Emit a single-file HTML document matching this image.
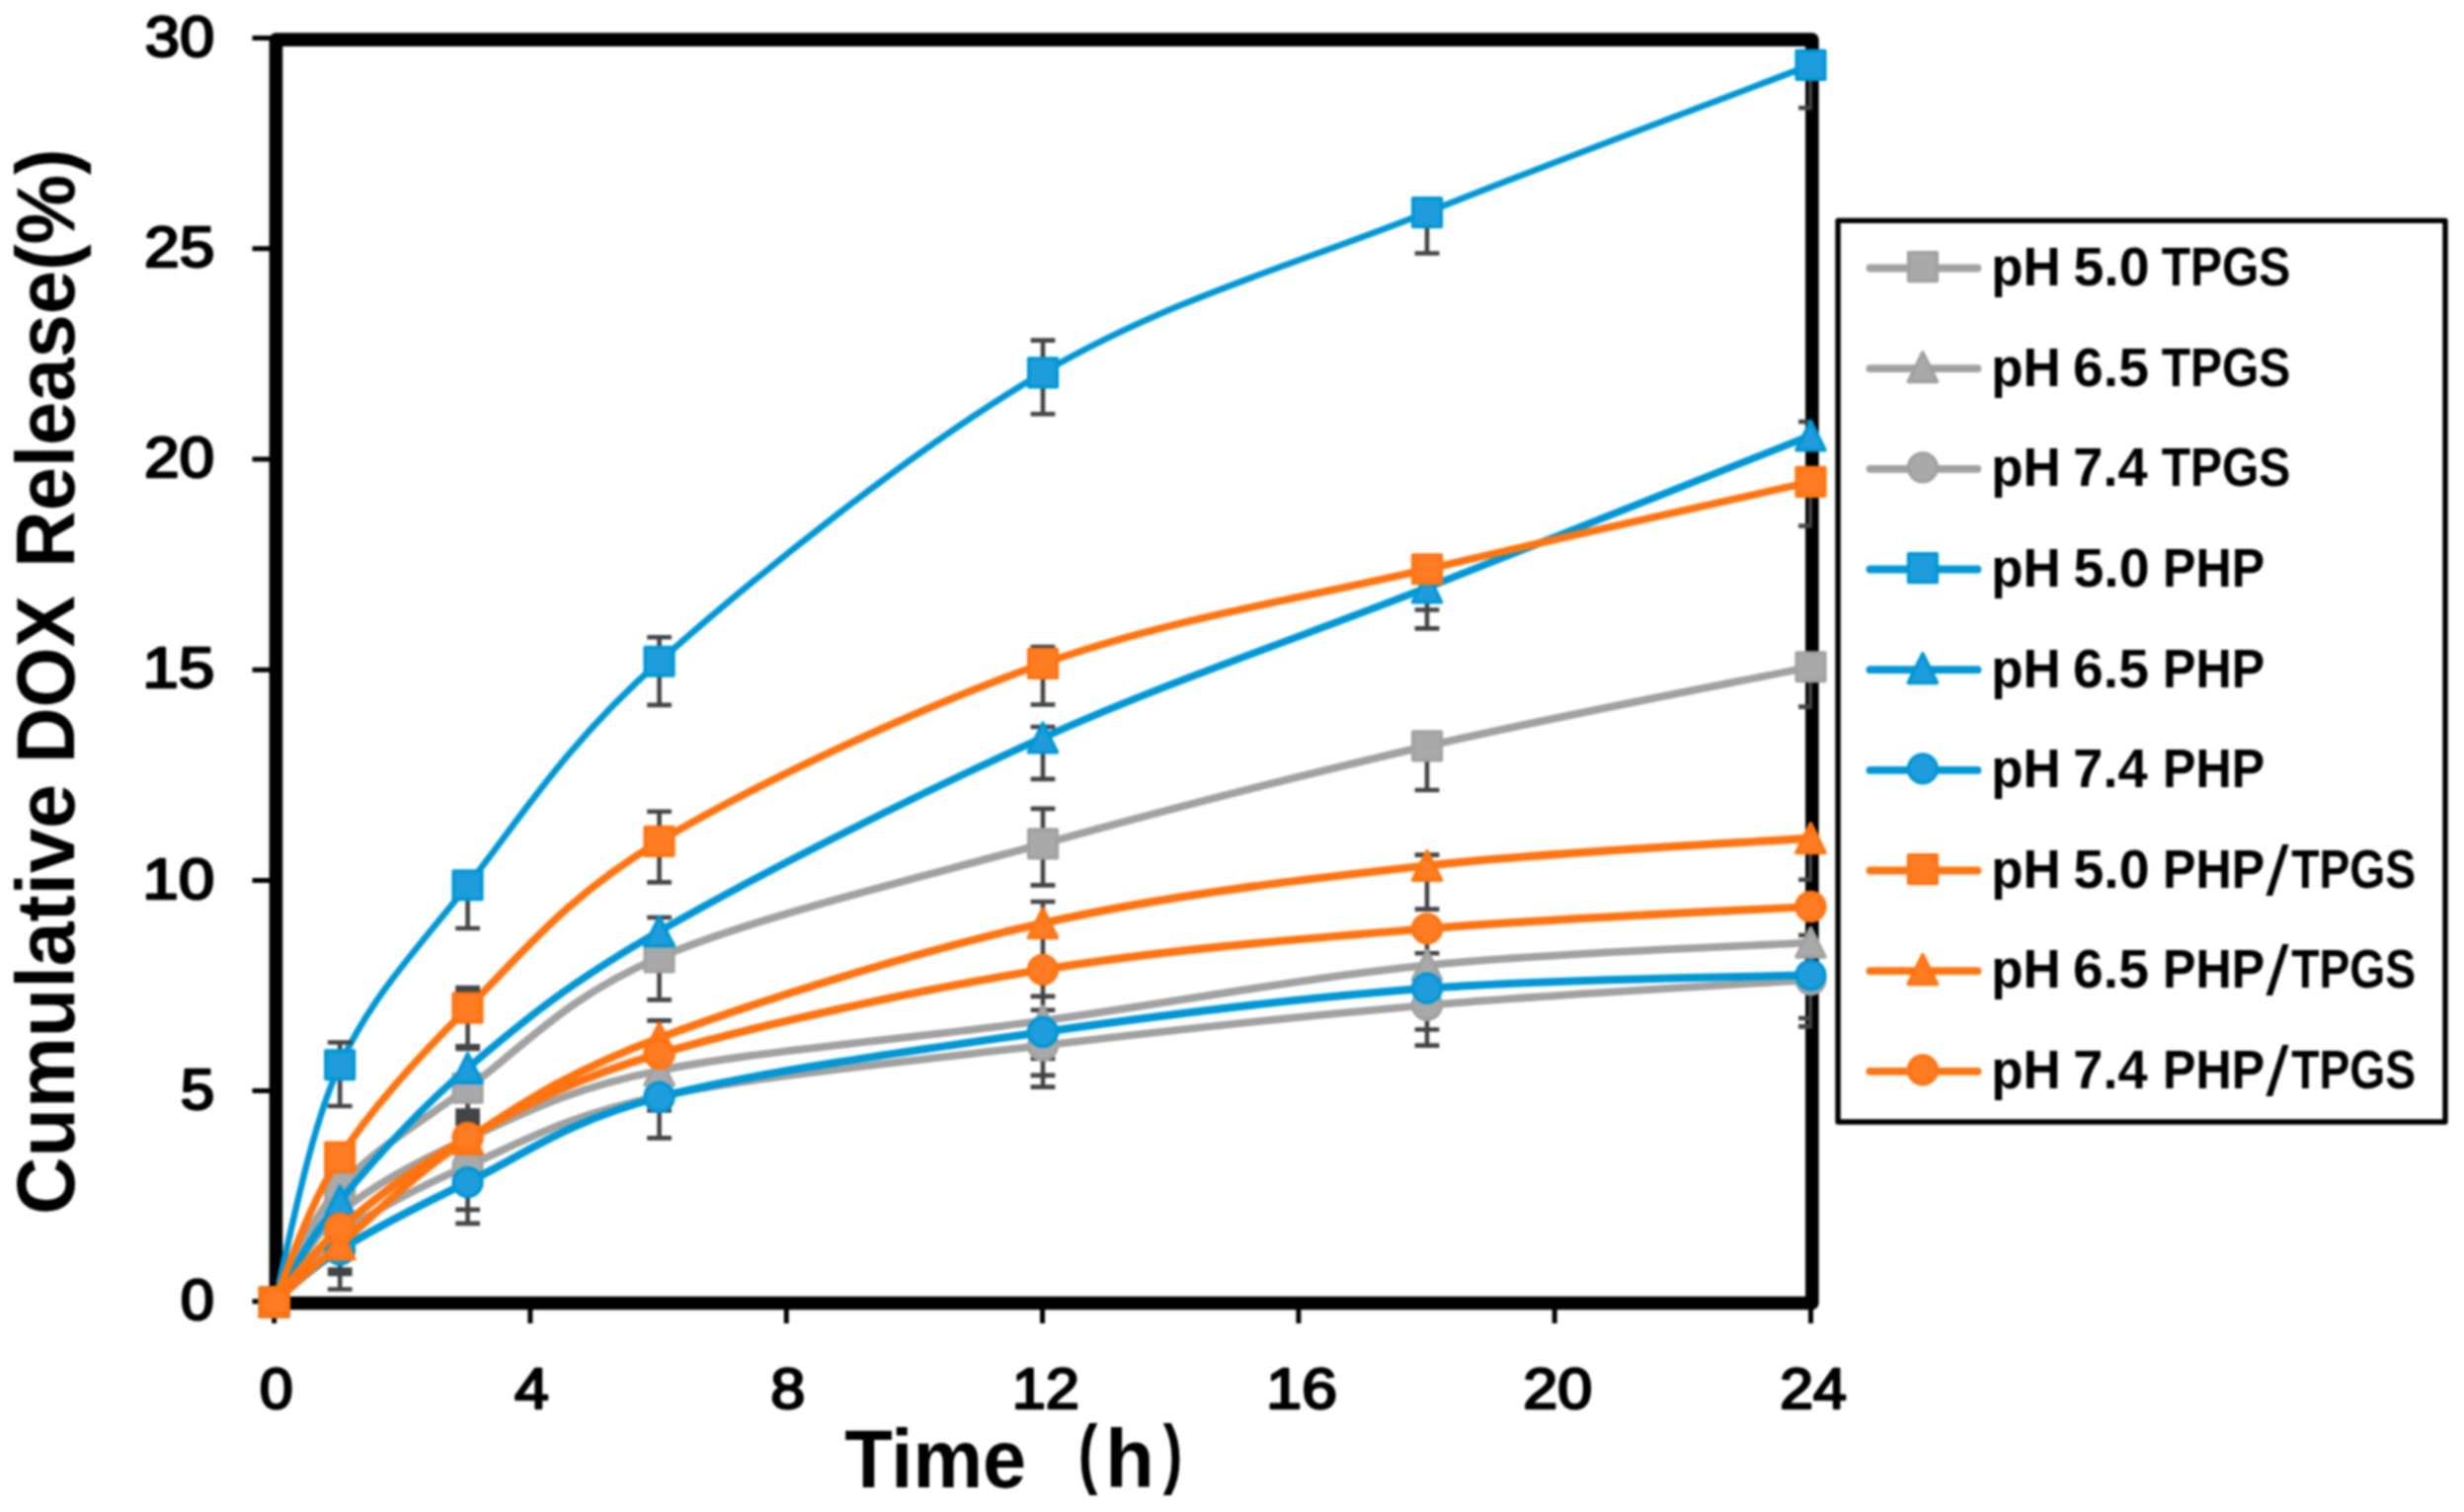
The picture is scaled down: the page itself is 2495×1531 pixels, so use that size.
<!DOCTYPE html>
<html lang="en"><head><meta charset="utf-8"><title>Cumulative DOX Release</title>
<style>html,body{margin:0;padding:0;background:#fff;overflow:hidden}svg{display:block;filter:blur(1px)}svg{font-family:"Liberation Sans",sans-serif;font-weight:700}text{fill:#000}</style>
</head><body>
<svg width="2495" height="1531" viewBox="0 0 2495 1531">
<rect width="2495" height="1531" fill="#fff"/>
<defs><clipPath id="pa"><rect x="279.5" y="40" width="1555.5" height="1279.2"/></clipPath></defs>
<g stroke="#000" stroke-width="5" fill="none">
<path d="M255.5 1317.8H275M255.5 1104.6H275M255.5 891.4H275M255.5 678.2H275M255.5 465H275M255.5 251.8H275M255.5 38.6H275M277.6 1322V1340M536.9 1322V1340M796.3 1322V1340M1055.6 1322V1340M1314.9 1322V1340M1574.2 1322V1340M1833.6 1322V1340"/>
</g>
<rect x="279.4" y="40.1" width="1555.5" height="1279.4" fill="none" stroke="#000" stroke-width="13.6" stroke-linejoin="round"/>
<g font-size="58" font-weight="400" stroke="#000" stroke-width="2.4" stroke-linejoin="round">
<text x="182.8" y="1335.9" textLength="34.2" lengthAdjust="spacingAndGlyphs">0</text>
<text x="182.7" y="1122.7" textLength="34.5" lengthAdjust="spacingAndGlyphs">5</text>
<text x="144.2" y="909.5" textLength="73" lengthAdjust="spacingAndGlyphs">10</text>
<text x="144.2" y="696.3" textLength="73.2" lengthAdjust="spacingAndGlyphs">15</text>
<text x="146" y="483.1" textLength="71.1" lengthAdjust="spacingAndGlyphs">20</text>
<text x="146" y="269.9" textLength="71.3" lengthAdjust="spacingAndGlyphs">25</text>
<text x="146.8" y="56.7" textLength="70.3" lengthAdjust="spacingAndGlyphs">30</text>
<text x="262.8" y="1426.3" textLength="34" lengthAdjust="spacingAndGlyphs">0</text>
<text x="521.1" y="1426.3" textLength="34.8" lengthAdjust="spacingAndGlyphs">4</text>
<text x="780.2" y="1426.3" textLength="35.1" lengthAdjust="spacingAndGlyphs">8</text>
<text x="1024.7" y="1426.3" textLength="68.3" lengthAdjust="spacingAndGlyphs">12</text>
<text x="1282" y="1426.3" textLength="72.2" lengthAdjust="spacingAndGlyphs">16</text>
<text x="1542.3" y="1426.3" textLength="70.1" lengthAdjust="spacingAndGlyphs">20</text>
<text x="1802.2" y="1426.3" textLength="67.7" lengthAdjust="spacingAndGlyphs">24</text>
</g>
<text transform="translate(74.6 0) rotate(-90)" font-size="83.5"><tspan x="-1229.9" textLength="435.8" lengthAdjust="spacingAndGlyphs">Cumulative</tspan> <tspan x="-773.1" textLength="169.8" lengthAdjust="spacingAndGlyphs">DOX</tspan> <tspan x="-574.7" textLength="424.3" lengthAdjust="spacingAndGlyphs">Release(%)</tspan></text>
<text y="1505.5" font-size="83.5"><tspan x="855.3" textLength="183.9" lengthAdjust="spacingAndGlyphs">Time</tspan><tspan x="1062"> </tspan><tspan x="1091.7" dy="-7.5" font-size="78" textLength="19.6" lengthAdjust="spacingAndGlyphs">(</tspan><tspan x="1119.3" dy="7.5" textLength="49.5" lengthAdjust="spacingAndGlyphs">h</tspan><tspan x="1177.7" dy="-7.5" font-size="78" textLength="19.6" lengthAdjust="spacingAndGlyphs">)</tspan></text>
<g>
<path d="M277.8 1318.2C288.9 1298.8 311.6 1237.6 344.2 1201.5C376.8 1165.4 419.7 1140.4 473.6 1101.7C527.5 1063 570.5 1010.7 667.6 969.5C764.7 928.3 926.4 890.1 1056 854.4C1185.6 818.7 1315.4 785.3 1445 755.4C1574.6 725.5 1768.8 688.6 1833.5 675.2" fill="none" stroke="#A1A1A1" stroke-width="7.8" stroke-linecap="round" stroke-linejoin="round" clip-path="url(#pa)"/>
<g stroke="#424446" stroke-width="4.6" fill="none" clip-path="url(#pa)">
<path d="M473.6 1110V1140M461.2 1124.5H486M461.2 1129H486M461.2 1133.5H486M461.2 1138H486"/>
<path d="M667.6 929V1012.4M655.2 929H680M655.2 1012.4H680"/>
<path d="M1056 818.9V896.4M1043.6 818.9H1068.4M1043.6 896.4H1068.4"/>
<path d="M1445 755V800M1432.6 800H1457.4"/>
<path d="M1833.5 675V715.6M1821.1 715.6H1845.9"/>
</g>
<rect x="263.4" y="1303.9" width="28.7" height="28.7" fill="#A9A9A9" stroke="#A1A1A1" stroke-width="3.5" stroke-linejoin="round"/>
<rect x="329.8" y="1187.2" width="28.7" height="28.7" fill="#A9A9A9" stroke="#A1A1A1" stroke-width="3.5" stroke-linejoin="round"/>
<rect x="459.2" y="1087.4" width="28.7" height="28.7" fill="#A9A9A9" stroke="#A1A1A1" stroke-width="3.5" stroke-linejoin="round"/>
<rect x="653.2" y="955.1" width="28.7" height="28.7" fill="#A9A9A9" stroke="#A1A1A1" stroke-width="3.5" stroke-linejoin="round"/>
<rect x="1041.7" y="840" width="28.7" height="28.7" fill="#A9A9A9" stroke="#A1A1A1" stroke-width="3.5" stroke-linejoin="round"/>
<rect x="1430.7" y="741" width="28.7" height="28.7" fill="#A9A9A9" stroke="#A1A1A1" stroke-width="3.5" stroke-linejoin="round"/>
<rect x="1819.2" y="660.9" width="28.7" height="28.7" fill="#A9A9A9" stroke="#A1A1A1" stroke-width="3.5" stroke-linejoin="round"/>
</g>
<g>
<path d="M277.8 1318.2C288.9 1303.2 311.6 1255.5 344.2 1228C376.8 1200.5 419.7 1177 473.6 1153C527.5 1129 570.5 1103.9 667.6 1084C764.7 1064.1 926.4 1051.3 1056 1033.5C1185.6 1015.7 1315.4 990.6 1445 977.4C1574.6 964.2 1768.8 958.1 1833.5 954.3" fill="none" stroke="#A1A1A1" stroke-width="7.8" stroke-linecap="round" stroke-linejoin="round" clip-path="url(#pa)"/>
<g stroke="#424446" stroke-width="4.6" fill="none" clip-path="url(#pa)">
<path d="M1056 1008.9V1100.6M1043.6 1022.8H1068.4M1043.6 1072H1068.4M1043.6 1088.9H1068.4M1043.6 1100.6H1068.4"/>
<path d="M1445 950V1058.6M1432.6 965.3H1457.4M1432.6 1042.5H1457.4M1432.6 1058.6H1457.4"/>
<path d="M1833.5 947V1039.4M1821.1 947H1845.9M1821.1 1031H1845.9M1821.1 1039.4H1845.9"/>
</g>
<path d="M277.8 1303.5L292.4 1333L263.2 1333Z" fill="#A9A9A9" stroke="#A1A1A1" stroke-width="3.5" stroke-linejoin="round"/>
<path d="M344.2 1213.2L358.8 1242.8L329.6 1242.8Z" fill="#A9A9A9" stroke="#A1A1A1" stroke-width="3.5" stroke-linejoin="round"/>
<path d="M473.6 1138.2L488.2 1167.8L459 1167.8Z" fill="#A9A9A9" stroke="#A1A1A1" stroke-width="3.5" stroke-linejoin="round"/>
<path d="M667.6 1069.2L682.2 1098.8L653 1098.8Z" fill="#A9A9A9" stroke="#A1A1A1" stroke-width="3.5" stroke-linejoin="round"/>
<path d="M1056 1018.8L1070.6 1048.2L1041.4 1048.2Z" fill="#A9A9A9" stroke="#A1A1A1" stroke-width="3.5" stroke-linejoin="round"/>
<path d="M1445 962.6L1459.6 992.1L1430.4 992.1Z" fill="#A9A9A9" stroke="#A1A1A1" stroke-width="3.5" stroke-linejoin="round"/>
<path d="M1833.5 939.5L1848.1 969L1818.9 969Z" fill="#A9A9A9" stroke="#A1A1A1" stroke-width="3.5" stroke-linejoin="round"/>
</g>
<g>
<path d="M277.8 1318.2C288.9 1306.8 311.6 1273 344.2 1250C376.8 1227 419.7 1203.8 473.6 1180.5C527.5 1157.2 570.5 1130.3 667.6 1110C764.7 1089.7 926.4 1074 1056 1058.6C1185.6 1043.2 1315.4 1028.9 1445 1017.8C1574.6 1006.7 1768.8 996.3 1833.5 992" fill="none" stroke="#A1A1A1" stroke-width="7.8" stroke-linecap="round" stroke-linejoin="round" clip-path="url(#pa)"/>
<g stroke="#424446" stroke-width="4.6" fill="none" clip-path="url(#pa)">
<path d="M344.2 1270V1305.5M331.8 1285.5H356.6M331.8 1290H356.6M331.8 1305.5H356.6"/>
<path d="M473.6 1200V1238.9M461.2 1224.9H486M461.2 1238.9H486"/>
<path d="M667.6 1110V1124.5M655.2 1124.5H680"/>
</g>
<circle cx="277.8" cy="1318.2" r="14.4" fill="#A9A9A9" stroke="#A1A1A1" stroke-width="3.5"/>
<circle cx="344.2" cy="1250" r="14.4" fill="#A9A9A9" stroke="#A1A1A1" stroke-width="3.5"/>
<circle cx="473.6" cy="1180.5" r="14.4" fill="#A9A9A9" stroke="#A1A1A1" stroke-width="3.5"/>
<circle cx="667.6" cy="1110" r="14.4" fill="#A9A9A9" stroke="#A1A1A1" stroke-width="3.5"/>
<circle cx="1056" cy="1058.6" r="14.4" fill="#A9A9A9" stroke="#A1A1A1" stroke-width="3.5"/>
<circle cx="1445" cy="1017.8" r="14.4" fill="#A9A9A9" stroke="#A1A1A1" stroke-width="3.5"/>
<circle cx="1833.5" cy="992" r="14.4" fill="#A9A9A9" stroke="#A1A1A1" stroke-width="3.5"/>
</g>
<g>
<path d="M277.8 1318.2C288.9 1278.2 311.6 1148.5 344.2 1078.2C376.8 1007.9 419.7 964.3 473.6 896.2C527.5 828.1 570.5 756.3 667.6 669.8C764.7 583.3 926.4 453.2 1056 377.4C1185.6 301.6 1315.4 266.9 1445 215C1574.6 163.1 1768.8 90.8 1833.5 65.9" fill="none" stroke="#0097D7" stroke-width="6.5" stroke-linecap="round" stroke-linejoin="round" clip-path="url(#pa)"/>
<g stroke="#424446" stroke-width="4.6" fill="none" clip-path="url(#pa)">
<path d="M344.2 1055.5V1120M331.8 1055.5H356.6M331.8 1120H356.6"/>
<path d="M473.6 896V940M461.2 940H486"/>
<path d="M667.6 645.3V713.9M655.2 645.3H680M655.2 713.9H680"/>
<path d="M1056 344.6V419.2M1043.6 344.6H1068.4M1043.6 419.2H1068.4"/>
<path d="M1445 215V256.5M1432.6 256.5H1457.4"/>
<path d="M1833.5 66V109.3M1821.1 109.3H1845.9"/>
</g>
<rect x="263.4" y="1303.9" width="28.7" height="28.7" fill="#1F9CDB" stroke="#0097D7" stroke-width="3.5" stroke-linejoin="round"/>
<rect x="329.8" y="1063.9" width="28.7" height="28.7" fill="#1F9CDB" stroke="#0097D7" stroke-width="3.5" stroke-linejoin="round"/>
<rect x="459.2" y="881.9" width="28.7" height="28.7" fill="#1F9CDB" stroke="#0097D7" stroke-width="3.5" stroke-linejoin="round"/>
<rect x="653.2" y="655.4" width="28.7" height="28.7" fill="#1F9CDB" stroke="#0097D7" stroke-width="3.5" stroke-linejoin="round"/>
<rect x="1041.7" y="363" width="28.7" height="28.7" fill="#1F9CDB" stroke="#0097D7" stroke-width="3.5" stroke-linejoin="round"/>
<rect x="1430.7" y="200.7" width="28.7" height="28.7" fill="#1F9CDB" stroke="#0097D7" stroke-width="3.5" stroke-linejoin="round"/>
<rect x="1819.2" y="51.6" width="28.7" height="28.7" fill="#1F9CDB" stroke="#0097D7" stroke-width="3.5" stroke-linejoin="round"/>
</g>
<g>
<path d="M277.8 1318.2C288.9 1301.2 311.6 1255.5 344.2 1216C376.8 1176.5 419.7 1127 473.6 1081.5C527.5 1036 570.5 998.8 667.6 943C764.7 887.2 926.4 805 1056 747C1185.6 689 1315.4 646 1445 595C1574.6 544 1768.8 466.7 1833.5 441" fill="none" stroke="#0097D7" stroke-width="7.5" stroke-linecap="round" stroke-linejoin="round" clip-path="url(#pa)"/>
<g stroke="#424446" stroke-width="4.6" fill="none" clip-path="url(#pa)">
<path d="M1056 736V788.9M1043.6 736H1068.4M1043.6 788.9H1068.4"/>
<path d="M1445 595V636.4M1432.6 617.5H1457.4M1432.6 636.4H1457.4"/>
<path d="M1833.5 427V441M1821.1 427H1845.9"/>
</g>
<path d="M277.8 1303.5L292.4 1333L263.2 1333Z" fill="#1F9CDB" stroke="#0097D7" stroke-width="3.5" stroke-linejoin="round"/>
<path d="M344.2 1201.2L358.8 1230.8L329.6 1230.8Z" fill="#1F9CDB" stroke="#0097D7" stroke-width="3.5" stroke-linejoin="round"/>
<path d="M473.6 1066.8L488.2 1096.2L459 1096.2Z" fill="#1F9CDB" stroke="#0097D7" stroke-width="3.5" stroke-linejoin="round"/>
<path d="M667.6 928.2L682.2 957.8L653 957.8Z" fill="#1F9CDB" stroke="#0097D7" stroke-width="3.5" stroke-linejoin="round"/>
<path d="M1056 732.2L1070.6 761.8L1041.4 761.8Z" fill="#1F9CDB" stroke="#0097D7" stroke-width="3.5" stroke-linejoin="round"/>
<path d="M1445 580.2L1459.6 609.8L1430.4 609.8Z" fill="#1F9CDB" stroke="#0097D7" stroke-width="3.5" stroke-linejoin="round"/>
<path d="M1833.5 426.2L1848.1 455.8L1818.9 455.8Z" fill="#1F9CDB" stroke="#0097D7" stroke-width="3.5" stroke-linejoin="round"/>
</g>
<g>
<path d="M277.8 1318.2C288.9 1309.5 311.6 1285.9 344.2 1265.7C376.8 1245.5 419.7 1223 473.6 1197.2C527.5 1171.4 570.5 1136.4 667.6 1111C764.7 1085.6 926.4 1063.4 1056 1045C1185.6 1026.6 1315.4 1010.3 1445 1000.7C1574.6 991.1 1768.8 989.5 1833.5 987.3" fill="none" stroke="#0097D7" stroke-width="8" stroke-linecap="round" stroke-linejoin="round" clip-path="url(#pa)"/>
<g stroke="#424446" stroke-width="4.6" fill="none" clip-path="url(#pa)">
<path d="M667.6 1111V1152.4M655.2 1152.4H680"/>
</g>
<circle cx="277.8" cy="1318.2" r="14.4" fill="#1F9CDB" stroke="#0097D7" stroke-width="3.5"/>
<circle cx="344.2" cy="1265.7" r="14.4" fill="#1F9CDB" stroke="#0097D7" stroke-width="3.5"/>
<circle cx="473.6" cy="1197.2" r="14.4" fill="#1F9CDB" stroke="#0097D7" stroke-width="3.5"/>
<circle cx="667.6" cy="1111" r="14.4" fill="#1F9CDB" stroke="#0097D7" stroke-width="3.5"/>
<circle cx="1056" cy="1045" r="14.4" fill="#1F9CDB" stroke="#0097D7" stroke-width="3.5"/>
<circle cx="1445" cy="1000.7" r="14.4" fill="#1F9CDB" stroke="#0097D7" stroke-width="3.5"/>
<circle cx="1833.5" cy="987.3" r="14.4" fill="#1F9CDB" stroke="#0097D7" stroke-width="3.5"/>
</g>
<g>
<path d="M277.8 1318.2C288.9 1293.8 311.6 1221.1 344.2 1171.5C376.8 1121.9 419.7 1073.8 473.6 1020.6C527.5 967.4 570.5 910.1 667.6 852C764.7 793.9 926.4 718 1056 672C1185.6 626 1315.4 607 1445 576.3C1574.6 545.6 1768.8 502.6 1833.5 487.9" fill="none" stroke="#FF7410" stroke-width="7.6" stroke-linecap="round" stroke-linejoin="round" clip-path="url(#pa)"/>
<g stroke="#424446" stroke-width="4.6" fill="none" clip-path="url(#pa)">
<path d="M473.6 1000V1062M461.2 1000H486M461.2 1002.6H486M461.2 1059.4H486M461.2 1062H486"/>
<path d="M667.6 821.7V893.4M655.2 821.7H680M655.2 893.4H680"/>
<path d="M1056 655V713.5M1043.6 655H1068.4M1043.6 713.5H1068.4"/>
<path d="M1833.5 488V532.5M1821.1 532.5H1845.9"/>
</g>
<rect x="263.4" y="1303.9" width="28.7" height="28.7" fill="#FF7B22" stroke="#FF7410" stroke-width="3.5" stroke-linejoin="round"/>
<rect x="329.8" y="1157.2" width="28.7" height="28.7" fill="#FF7B22" stroke="#FF7410" stroke-width="3.5" stroke-linejoin="round"/>
<rect x="459.2" y="1006.2" width="28.7" height="28.7" fill="#FF7B22" stroke="#FF7410" stroke-width="3.5" stroke-linejoin="round"/>
<rect x="653.2" y="837.6" width="28.7" height="28.7" fill="#FF7B22" stroke="#FF7410" stroke-width="3.5" stroke-linejoin="round"/>
<rect x="1041.7" y="657.6" width="28.7" height="28.7" fill="#FF7B22" stroke="#FF7410" stroke-width="3.5" stroke-linejoin="round"/>
<rect x="1430.7" y="561.9" width="28.7" height="28.7" fill="#FF7B22" stroke="#FF7410" stroke-width="3.5" stroke-linejoin="round"/>
<rect x="1819.2" y="473.5" width="28.7" height="28.7" fill="#FF7B22" stroke="#FF7410" stroke-width="3.5" stroke-linejoin="round"/>
</g>
<g>
<path d="M277.8 1318.2C288.9 1308.5 311.6 1287.5 344.2 1260C376.8 1232.5 419.7 1188.2 473.6 1153.4C527.5 1118.6 570.5 1087.5 667.6 1051C764.7 1014.5 926.4 963.8 1056 934.7C1185.6 905.6 1315.4 890.9 1445 876.5C1574.6 862.1 1768.8 853.2 1833.5 848.6" fill="none" stroke="#FF7410" stroke-width="8.2" stroke-linecap="round" stroke-linejoin="round" clip-path="url(#pa)"/>
<g stroke="#424446" stroke-width="4.6" fill="none" clip-path="url(#pa)">
<path d="M667.6 1033.4V1051M655.2 1033.4H680"/>
<path d="M1056 913V1000M1043.6 913H1068.4"/>
<path d="M1445 865.6V920.6M1432.6 865.6H1457.4M1432.6 920.6H1457.4"/>
<path d="M1833.5 848V890.7M1821.1 890.7H1845.9"/>
</g>
<path d="M277.8 1303.5L292.4 1333L263.2 1333Z" fill="#FF7B22" stroke="#FF7410" stroke-width="3.5" stroke-linejoin="round"/>
<path d="M344.2 1245.2L358.8 1274.8L329.6 1274.8Z" fill="#FF7B22" stroke="#FF7410" stroke-width="3.5" stroke-linejoin="round"/>
<path d="M473.6 1138.7L488.2 1168.2L459 1168.2Z" fill="#FF7B22" stroke="#FF7410" stroke-width="3.5" stroke-linejoin="round"/>
<path d="M667.6 1036.2L682.2 1065.8L653 1065.8Z" fill="#FF7B22" stroke="#FF7410" stroke-width="3.5" stroke-linejoin="round"/>
<path d="M1056 920L1070.6 949.5L1041.4 949.5Z" fill="#FF7B22" stroke="#FF7410" stroke-width="3.5" stroke-linejoin="round"/>
<path d="M1445 861.8L1459.6 891.2L1430.4 891.2Z" fill="#FF7B22" stroke="#FF7410" stroke-width="3.5" stroke-linejoin="round"/>
<path d="M1833.5 833.9L1848.1 863.4L1818.9 863.4Z" fill="#FF7B22" stroke="#FF7410" stroke-width="3.5" stroke-linejoin="round"/>
</g>
<g>
<path d="M277.8 1318.2C288.9 1305.8 311.6 1271.7 344.2 1244C376.8 1216.3 419.7 1181.5 473.6 1152C527.5 1122.5 570.5 1095.4 667.6 1067C764.7 1038.6 926.4 1002.9 1056 981.8C1185.6 960.7 1315.4 951 1445 940.4C1574.6 929.8 1768.8 921.7 1833.5 918" fill="none" stroke="#FF7410" stroke-width="8.2" stroke-linecap="round" stroke-linejoin="round" clip-path="url(#pa)"/>
<g stroke="#424446" stroke-width="4.6" fill="none" clip-path="url(#pa)">
<path d="M1056 981V1008.9M1043.6 1008.9H1068.4"/>
</g>
<circle cx="277.8" cy="1318.2" r="14.4" fill="#FF7B22" stroke="#FF7410" stroke-width="3.5"/>
<circle cx="344.2" cy="1244" r="14.4" fill="#FF7B22" stroke="#FF7410" stroke-width="3.5"/>
<circle cx="473.6" cy="1152" r="14.4" fill="#FF7B22" stroke="#FF7410" stroke-width="3.5"/>
<circle cx="667.6" cy="1067" r="14.4" fill="#FF7B22" stroke="#FF7410" stroke-width="3.5"/>
<circle cx="1056" cy="981.8" r="14.4" fill="#FF7B22" stroke="#FF7410" stroke-width="3.5"/>
<circle cx="1445" cy="940.4" r="14.4" fill="#FF7B22" stroke="#FF7410" stroke-width="3.5"/>
<circle cx="1833.5" cy="918" r="14.4" fill="#FF7B22" stroke="#FF7410" stroke-width="3.5"/>
</g>
<rect x="1861.1" y="223.4" width="614.9" height="912.6" fill="#fff" stroke="#000" stroke-width="5.4" stroke-linejoin="round"/>
<path d="M1893.5 271.5H2002.5" stroke="#A1A1A1" stroke-width="7.8" stroke-linecap="round" fill="none"/>
<rect x="1932.6" y="255.7" width="28.7" height="28.7" fill="#A9A9A9" stroke="#A1A1A1" stroke-width="3.5" stroke-linejoin="round"/>
<text y="289.4" font-size="54.6"><tspan x="2016.2" textLength="70.5" lengthAdjust="spacingAndGlyphs">pH</tspan> <tspan x="2099.4" textLength="77.2" lengthAdjust="spacingAndGlyphs">5.0</tspan> <tspan x="2188.7" textLength="130.6" lengthAdjust="spacingAndGlyphs">TPGS</tspan></text>
<path d="M1893.5 373.2H2002.5" stroke="#A1A1A1" stroke-width="7.8" stroke-linecap="round" fill="none"/>
<path d="M1946.9 356.9L1961.5 386.4L1932.3 386.4Z" fill="#A9A9A9" stroke="#A1A1A1" stroke-width="3.5" stroke-linejoin="round"/>
<text y="390.9" font-size="54.6"><tspan x="2016.2" textLength="70.5" lengthAdjust="spacingAndGlyphs">pH</tspan> <tspan x="2099.1" textLength="76.8" lengthAdjust="spacingAndGlyphs">6.5</tspan> <tspan x="2188.7" textLength="130.6" lengthAdjust="spacingAndGlyphs">TPGS</tspan></text>
<path d="M1893.5 474.8H2002.5" stroke="#A1A1A1" stroke-width="7.8" stroke-linecap="round" fill="none"/>
<circle cx="1946.9" cy="473.3" r="14.4" fill="#A9A9A9" stroke="#A1A1A1" stroke-width="3.5"/>
<text y="492.4" font-size="54.6"><tspan x="2016.2" textLength="70.5" lengthAdjust="spacingAndGlyphs">pH</tspan> <tspan x="2099.3" textLength="75.3" lengthAdjust="spacingAndGlyphs">7.4</tspan> <tspan x="2188.7" textLength="130.6" lengthAdjust="spacingAndGlyphs">TPGS</tspan></text>
<path d="M1893.5 576.5H2002.5" stroke="#0097D7" stroke-width="7.8" stroke-linecap="round" fill="none"/>
<rect x="1932.6" y="560.7" width="28.7" height="28.7" fill="#1F9CDB" stroke="#0097D7" stroke-width="3.5" stroke-linejoin="round"/>
<text y="594" font-size="54.6"><tspan x="2016.2" textLength="70.5" lengthAdjust="spacingAndGlyphs">pH</tspan> <tspan x="2099.4" textLength="77.2" lengthAdjust="spacingAndGlyphs">5.0</tspan> <tspan x="2190.1" textLength="103.1" lengthAdjust="spacingAndGlyphs">PHP</tspan></text>
<path d="M1893.5 678.2H2002.5" stroke="#0097D7" stroke-width="7.8" stroke-linecap="round" fill="none"/>
<path d="M1946.9 661.9L1961.5 691.4L1932.3 691.4Z" fill="#1F9CDB" stroke="#0097D7" stroke-width="3.5" stroke-linejoin="round"/>
<text y="695.5" font-size="54.6"><tspan x="2016.2" textLength="70.5" lengthAdjust="spacingAndGlyphs">pH</tspan> <tspan x="2099.1" textLength="76.8" lengthAdjust="spacingAndGlyphs">6.5</tspan> <tspan x="2190.1" textLength="103.1" lengthAdjust="spacingAndGlyphs">PHP</tspan></text>
<path d="M1893.5 779.9H2002.5" stroke="#0097D7" stroke-width="7.8" stroke-linecap="round" fill="none"/>
<circle cx="1946.9" cy="778.4" r="14.4" fill="#1F9CDB" stroke="#0097D7" stroke-width="3.5"/>
<text y="797" font-size="54.6"><tspan x="2016.2" textLength="70.5" lengthAdjust="spacingAndGlyphs">pH</tspan> <tspan x="2099.3" textLength="75.3" lengthAdjust="spacingAndGlyphs">7.4</tspan> <tspan x="2190.1" textLength="103.1" lengthAdjust="spacingAndGlyphs">PHP</tspan></text>
<path d="M1893.5 881.5H2002.5" stroke="#FF7410" stroke-width="7.8" stroke-linecap="round" fill="none"/>
<rect x="1932.6" y="865.7" width="28.7" height="28.7" fill="#FF7B22" stroke="#FF7410" stroke-width="3.5" stroke-linejoin="round"/>
<text y="898.5" font-size="54.6"><tspan x="2016.2" textLength="70.5" lengthAdjust="spacingAndGlyphs">pH</tspan> <tspan x="2099.4" textLength="77.2" lengthAdjust="spacingAndGlyphs">5.0</tspan> <tspan x="2190.1" textLength="103.1" lengthAdjust="spacingAndGlyphs">PHP</tspan><tspan x="2294.6" dy="7" font-size="71" font-weight="400" textLength="23.1" lengthAdjust="spacingAndGlyphs">/</tspan><tspan x="2320.2" dy="-7" textLength="126" lengthAdjust="spacingAndGlyphs">TPGS</tspan></text>
<path d="M1893.5 983.2H2002.5" stroke="#FF7410" stroke-width="7.8" stroke-linecap="round" fill="none"/>
<path d="M1946.9 966.9L1961.5 996.4L1932.3 996.4Z" fill="#FF7B22" stroke="#FF7410" stroke-width="3.5" stroke-linejoin="round"/>
<text y="1000" font-size="54.6"><tspan x="2016.2" textLength="70.5" lengthAdjust="spacingAndGlyphs">pH</tspan> <tspan x="2099.1" textLength="76.8" lengthAdjust="spacingAndGlyphs">6.5</tspan> <tspan x="2190.1" textLength="103.1" lengthAdjust="spacingAndGlyphs">PHP</tspan><tspan x="2294.6" dy="7" font-size="71" font-weight="400" textLength="23.1" lengthAdjust="spacingAndGlyphs">/</tspan><tspan x="2320.2" dy="-7" textLength="126" lengthAdjust="spacingAndGlyphs">TPGS</tspan></text>
<path d="M1893.5 1084.9H2002.5" stroke="#FF7410" stroke-width="7.8" stroke-linecap="round" fill="none"/>
<circle cx="1946.9" cy="1083.4" r="14.4" fill="#FF7B22" stroke="#FF7410" stroke-width="3.5"/>
<text y="1101.6" font-size="54.6"><tspan x="2016.2" textLength="70.5" lengthAdjust="spacingAndGlyphs">pH</tspan> <tspan x="2099.3" textLength="75.3" lengthAdjust="spacingAndGlyphs">7.4</tspan> <tspan x="2190.1" textLength="103.1" lengthAdjust="spacingAndGlyphs">PHP</tspan><tspan x="2294.6" dy="7" font-size="71" font-weight="400" textLength="23.1" lengthAdjust="spacingAndGlyphs">/</tspan><tspan x="2320.2" dy="-7" textLength="126" lengthAdjust="spacingAndGlyphs">TPGS</tspan></text>
</svg>
</body></html>
